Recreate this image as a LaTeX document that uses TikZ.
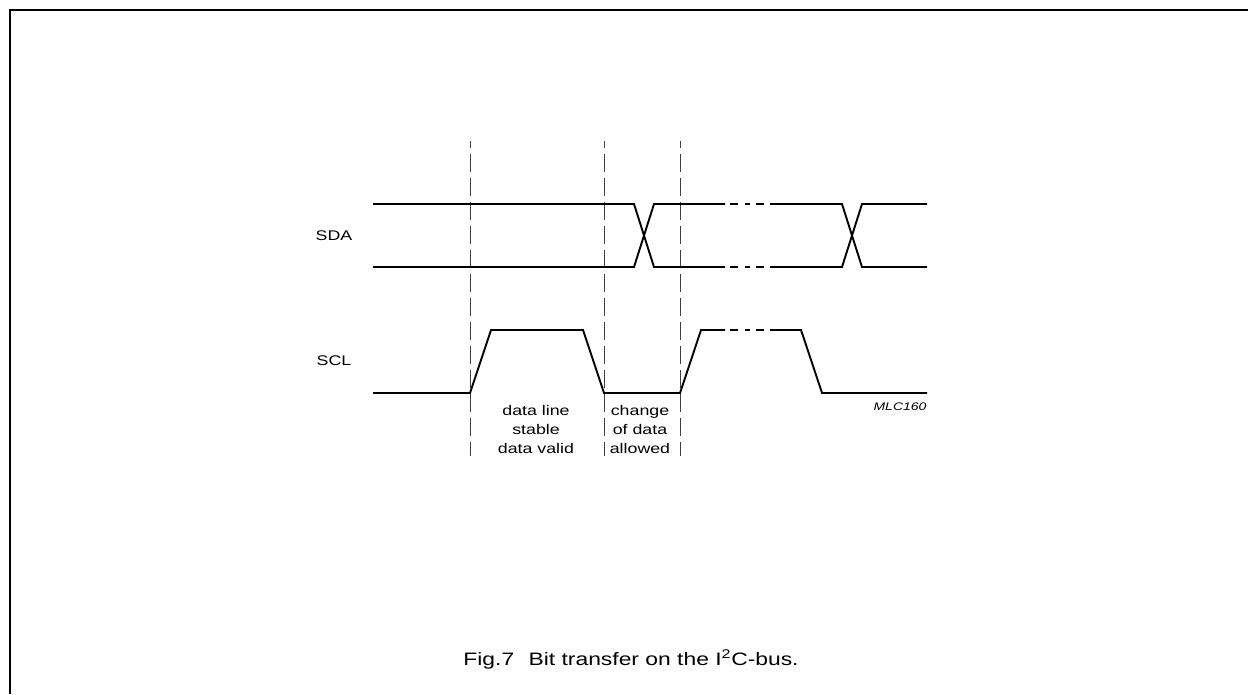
\documentclass[tikz,border=0pt]{standalone}
\usepackage{fontspec}
\setmainfont{Liberation Sans}
\begin{document}
\begin{tikzpicture}[x=1pt,y=-1pt,
  sig/.style={line width=1.9pt,line join=miter},
  guide/.style={line width=0.9pt,black!75,dash pattern=on 18pt off 6pt,dash phase=11pt},
  frame/.style={line width=1.2pt},
  lbl/.style={font=\fontsize{14}{19}\selectfont,xscale=1.27,inner sep=0pt,align=center},
  captxt/.style={font=\fontsize{18}{22}\selectfont,xscale=1.27,inner sep=0pt},
  tag/.style={font=\fontsize{11}{13}\selectfont\itshape,xscale=1.27,inner sep=0pt}]
\useasboundingbox (0,0) rectangle (1248,694);
% frame
\draw[frame] (10,694) -- (10,10) -- (1248,10);
% guide lines
\foreach \gx/\nm in {470/ga,604/gb,680/gc}{
  \coordinate (\nm t) at (\gx,141);
  \coordinate (\nm b) at (\gx,456);
  \draw[guide] (\nm t) -- (\nm b);
}
% SDA
\draw[sig] (373,204) -- (634,204) -- (654,267) -- (725,267);
\draw[sig] (373,267) -- (634,267) -- (654,204) -- (725,204);
\draw[sig] (770,204) -- (842,204) -- (862,267) -- (927,267);
\draw[sig] (770,267) -- (842,267) -- (862,204) -- (927,204);
\foreach \yy in {204,267,330}{
  \draw[sig] (730,\yy) -- (738,\yy);
  \draw[sig] (745,\yy) -- (750,\yy);
  \draw[sig] (756,\yy) -- (764,\yy);
}
% SCL
\draw[sig] (373,393) -- (470,393) -- (491,330) -- (583,330) -- (604,393) -- (680,393) -- (701,330) -- (725,330);
\draw[sig] (770,330) -- (801,330) -- (822,393) -- (927,393);
% labels
\node[lbl] (sda) at (334,236) {SDA};
\node[lbl] (scl) at (334,361) {SCL};
\node[lbl,anchor=base] (stab) at (536,453) {data line\\stable\\data valid};
\node[lbl,anchor=base] (chg) at (640,453) {change\\of data\\allowed};
\node[tag,anchor=base] (mlc) at (900,410) {MLC160};
\node[captxt,anchor=base] (caption) at (631,665) {Fig.7\hspace{0.35em} Bit transfer on the I\textsuperscript{2}C-bus.};
\end{tikzpicture}
\end{document}
